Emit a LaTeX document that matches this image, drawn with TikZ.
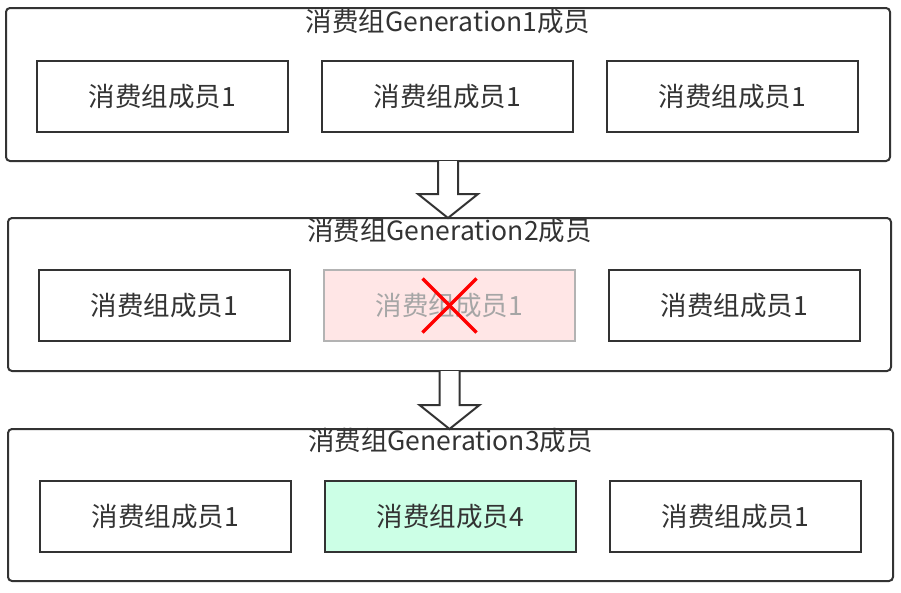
\documentclass[tikz,border=0pt]{standalone}
\usepackage{fontspec}
\setmainfont{Noto Sans CJK SC}
\usetikzlibrary{positioning,calc}
\definecolor{edge}{HTML}{333333}
\definecolor{gonefill}{HTML}{FFE6E6}
\definecolor{gonedraw}{HTML}{B3B3B3}
\definecolor{gonetext}{HTML}{A6A6A6}
\definecolor{newfill}{HTML}{CCFFE6}
\begin{document}
\begin{tikzpicture}[x=1pt,y=-1pt]
\tikzstyle{every node}+=[inner sep=0pt,outer sep=0pt,font=\fontsize{26.5}{30}\selectfont,text=edge]
\tikzstyle{group}=[draw=edge,line width=2pt,rounded corners=4pt,minimum height=153pt]
\tikzstyle{member}=[draw=edge,line width=2pt,minimum width=251pt,minimum height=71pt]
\tikzstyle{gone}=[member,draw=gonedraw,fill=gonefill,text=gonetext]
\tikzstyle{fresh}=[member,fill=newfill]
\tikzstyle{bigarrow}=[draw=edge,line width=2pt,fill=white]
\useasboundingbox (0,0) rectangle (901,592);
% groups
\node [group,minimum width=884pt] (g1) at (448,84.5) {};
\node [group,minimum width=883pt] (g2) at (449.5,294.5) {};
\node [group,minimum width=885pt,minimum height=152pt] (g3) at (450.5,505) {};
\node (t1) at ($(g1.north)+(0,14)$) {消费组Generation1成员};
\node (t2) at ($(g2.north)+(0,13)$) {消费组Generation2成员};
\node (t3) at ($(g3.north)+(0,12)$) {消费组Generation3成员};
% members
\node [member] (m11) at (162.5,96.5) {消费组成员1};
\node [member,right=34pt of m11] (m12) {消费组成员1};
\node [member,right=34pt of m12] (m13) {消费组成员1};
\node [member] (m21) at (164.5,305.5) {消费组成员1};
\node [gone,right=34pt of m21] (m22) {消费组成员1};
\node [member,right=34pt of m22] (m23) {消费组成员1};
\node [member] (m31) at (165.5,516.5) {消费组成员1};
\node [fresh,right=34pt of m31] (m32) {消费组成员4};
\node [member,right=34pt of m32] (m33) {消费组成员1};
% removed member
\draw [red,line width=3.5pt] ($(m22.center)+(-27,-27)$) -- ($(m22.center)+(27,27)$);
\draw [red,line width=3.5pt] ($(m22.center)+(27,-27)$) -- ($(m22.center)+(-27,27)$);
% arrows between generations
\coordinate (a1) at (g1.south |- g2.north);
\coordinate (a2) at (g2.south |- g3.north);
\filldraw [bigarrow] ($(g1.south)+(-10,0)$) -- ($(a1)+(-10,-24)$) -- ($(a1)+(-30,-24)$) -- (a1)
  -- ($(a1)+(30,-24)$) -- ($(a1)+(10,-24)$) -- ($(g1.south)+(10,0)$);
\filldraw [bigarrow] ($(g2.south)+(-10,0)$) -- ($(a2)+(-10,-24)$) -- ($(a2)+(-30,-24)$) -- (a2)
  -- ($(a2)+(30,-24)$) -- ($(a2)+(10,-24)$) -- ($(g2.south)+(10,0)$);
\end{tikzpicture}
\end{document}
